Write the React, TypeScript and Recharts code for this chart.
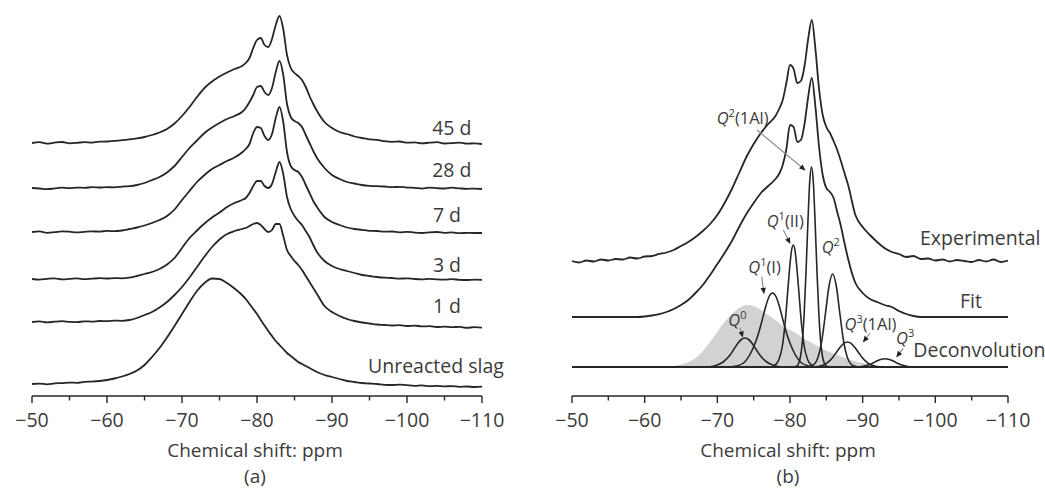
import React from "react";
import {
  ComposedChart,
  Line,
  Area,
  XAxis,
  YAxis,
  ReferenceDot,
  ReferenceLine,
} from "recharts";

const INK = "#262626";
const TEXT = "#3b3b3b";
const FONT = "'Open Sans', 'Noto Sans', sans-serif";

// chemical shift grid (ppm), finer around the Q1/Q2 peaks
const shifts = [
  -50, -51, -52, -53, -54, -55, -56, -57, -58, -59, -60, -61, -62, -63, -64, -65, -66,
  -67, -68, -69, -70, -71, -72, -73, -74, -75, -76, -77, -78,
  -78.5, -79, -79.5, -80, -80.5, -81, -81.5, -82, -82.5, -83, -83.5, -84, -84.5, -85, -85.5, -86, -86.5, -87, -87.5, -88,
  -89, -90, -91, -92, -93, -94, -95, -96, -97, -98, -99, -100, -101, -102, -103, -104, -105, -106, -107, -108, -109, -110,
];

const xTicks = [-50, -55, -60, -65, -70, -75, -80, -85, -90, -95, -100, -105, -110];

// panel (a): spectrum intensity above its own baseline
const day45 = [
  0, 0.8, -0.6, 0.4, 1.0, -0.3, 0.2, 0.9, 0.4, 1.3, 1.5, 2.2, 2.8, 3.6, 4.6, 6, 8,
  10.5, 14, 19.5, 27, 36, 46, 55, 61.5, 66.5, 70.5, 74, 77,
  80, 85, 95, 103, 105, 98, 96, 104, 118, 127, 114, 88, 75, 70, 67, 63, 56, 47, 39, 32,
  21, 15, 11, 9, 6.5, 5, 3.6, 3.2, 1.8, 1.2, 1.5, 0.3, 0.6, -0.4, 0.3, 0.8, -0.5, -0.2, 0.4, -0.6, -0.4, -1,
];
const day28 = [
  0, -0.5, -1.2, -0.4, 0.3, -0.2, 0.4, 0.2, 0.8, 0.5, 0.9, 0.6, 1.4, 1.8, 3, 5, 8,
  11, 15.5, 22, 31, 40, 47.5, 55, 60.5, 65, 69, 72, 76,
  80, 86, 93, 101, 102, 96, 93, 100, 116, 127, 113, 84, 71, 67, 65, 61, 53, 45, 37, 30,
  20, 13, 9, 6, 4.5, 3, 2.2, 1.8, 1.5, 0.8, 1.2, 0.4, 0.2, -0.6, 0.3, -0.2, -0.5, 0.3, -0.3, -0.8, -0.6, -1,
];
const day7 = [
  0, 0.6, -0.8, -0.2, 0.7, 0.3, -0.4, 0.2, 0.6, 0.4, 1.1, 0.8, 1.5, 3, 4.5, 6.5, 9,
  12, 16, 22.5, 32, 41, 50, 57, 63, 67, 71, 74.5, 79.5,
  83, 88, 99, 105, 104, 96, 92, 98, 114, 125, 110, 80, 66, 62, 60, 55, 47, 39, 31, 25,
  15, 10, 7, 4.5, 3, 2.2, 1.2, 1, 0.3, 0.5, -0.4, 0.2, -0.6, -1, -0.3, 0, -0.8, -0.4, -1.2, -0.8, -1, -1,
];
const day3 = [
  0, -0.6, 0.2, 0.7, -0.3, 0.1, 0.6, -0.2, 0.3, 0.8, 0.5, 0.9, 0.7, 1.4, 3, 5, 7,
  10, 14.5, 21, 31, 41, 48.5, 55.5, 61.5, 66.5, 72, 76, 79,
  81, 86, 93, 98, 98, 93, 91, 95, 107, 117, 105, 82, 70, 63, 58, 54, 48, 42, 34, 27,
  18, 13, 10, 8, 6, 4, 3, 2, 1.3, 1, 0.4, 0.6, 0, -0.3, 0.2, -0.4, -0.6, -0.2, -0.8, -1, -0.7, -0.8,
];
const day1 = [
  0, 0.6, -0.4, 0.3, 0.8, 0.2, -0.2, 0.7, 0.4, 1, 0.8, 1.4, 1.2, 2, 4, 7, 10,
  14.5, 20, 27, 35, 44.5, 55, 65.5, 75, 82.5, 88, 91, 93,
  94, 96, 98, 99, 97, 93, 90, 92, 98, 98, 86, 72, 66, 61, 57, 52, 46, 40, 34, 28,
  16, 10, 6, 3, 1, -0.5, -1.5, -2.5, -3, -3.5, -3.2, -4, -3.6, -4.4, -4.2, -5, -4.6, -5.2, -4.8, -5.8, -5.2, -5.6,
];
const unreacted = [
  0, 0.4, -0.3, 0.6, 0.9, 1.4, 1.2, 2.2, 2.4, 3, 4, 5.5, 7.5, 10, 13.5, 19, 27,
  36, 46.5, 58, 70, 82, 93, 101, 105.5, 105, 101, 95.5, 89,
  85, 80, 75, 70, 64, 58.5, 53, 48, 43, 39, 35, 31, 28, 25, 22, 20, 18, 16, 14, 12,
  9, 7, 5, 3, 2, 1, 0.5, 0, -0.8, -1, -0.6, -1.2, -1.8, -1.4, -2.2, -1.9, -2.4, -2.1, -2.8, -2.5, -3, -2.7,
];

const ageSeries = [day45, day28, day7, day3, day1, unreacted];
const ageLabels = ["45 d", "28 d", "7 d", "3 d", "1 d", "Unreacted slag"];
const ageStack = [253, 208, 164, 117, 74, 12];

// panel (b): experimental and fitted spectra
const experimental = [
  0, -1.5, 0.5, -0.5, 1.5, 0.5, 2, 1.5, 3.5, 2.5, 4.5, 5, 7, 8.5, 11, 15, 19,
  24, 30, 37, 46, 58, 72, 88, 104, 117, 128, 137, 145,
  152, 161, 178, 196, 192, 178, 180, 195, 222, 241, 212, 172, 146, 134, 128, 120, 111, 100, 88, 76,
  46, 34, 26, 19, 13, 9, 7, 4, 5, 2, 2.5, 0.5, 1.5, -0.5, 1, 0, -1, 1, -0.5, 1.5, -1, 0.5,
];
const fitted = [
  0, 0, 0, 0, 0, 0, 0, 0, 0, 0, 0.5, 1.5, 3, 5, 8, 12, 17,
  24, 32, 42, 53, 64, 76, 90, 103, 114, 124, 131, 138,
  143, 152, 168, 192, 190, 175, 177, 193, 220, 239, 210, 170, 142, 129, 125, 119, 105, 91, 74, 58,
  34, 24, 18, 15, 12, 10, 6, 3, 1, 0, 0, 0, 0, 0, 0, 0, 0, 0, 0, 0, 0, 0,
];
const expBase = 135;
const fitBase = 79;
const deconvBase = 29;

// deconvolution components: own shift lists and heights
const q0Shift = [-68.8, -69.8, -70.8, -71.8, -72.3, -72.8, -73.3, -73.8, -74.3, -74.8, -75.3, -75.8, -76.8, -77.8, -78.8];
const q0Height = [0, 1.5, 5, 12.5, 18, 23.5, 27.5, 29, 27.5, 23.5, 18, 12.5, 5, 1.5, 0];

const q1iShift = [-71.6, -72.6, -73.6, -74.6, -75.1, -75.6, -76.1, -76.6, -77.1, -77.6, -78.1, -78.6, -79.1, -79.6, -80.1, -80.6, -81.6, -82.6, -83.6];
const q1iHeight = [0, 1, 4, 14, 22, 32, 45, 59, 70, 74, 70, 59, 45, 32, 22, 14, 4, 1, 0];

const q1iiShift = [-77.45, -77.95, -78.45, -78.95, -79.2, -79.45, -79.7, -79.95, -80.2, -80.45, -80.7, -80.95, -81.2, -81.45, -81.7, -81.95, -82.45, -82.95, -83.45];
const q1iiHeight = [0, 2, 7, 21, 35, 54, 77, 99, 116, 122, 116, 99, 77, 54, 35, 21, 7, 2, 0];

const q2alShift = [-80.46, -80.96, -81.21, -81.46, -81.71, -81.96, -82.21, -82.46, -82.71, -82.96, -83.21, -83.46, -83.71, -83.96, -84.21, -84.46, -84.71, -84.96, -85.46];
const q2alHeight = [0, 1, 4, 11, 26, 55, 96, 144, 185, 200, 185, 144, 96, 55, 26, 11, 4, 1, 0];

const q2Shift = [-82.37, -82.87, -83.37, -83.87, -84.37, -84.87, -85.37, -85.87, -86.37, -86.87, -87.37, -87.87, -88.37, -88.87, -89.37];
const q2Height = [0, 1, 3, 10, 26, 53, 81, 93, 81, 53, 26, 10, 3, 1, 0];

const q3alShift = [-82.9, -83.9, -84.4, -84.9, -85.4, -85.9, -86.4, -86.9, -87.4, -87.9, -88.4, -88.9, -89.4, -89.9, -90.4, -90.9, -91.4, -91.9, -92.9];
const q3alHeight = [0, 0.5, 1.4, 3, 5.8, 9.8, 14.8, 19.8, 23.6, 25, 23.6, 19.8, 14.8, 9.8, 5.8, 3, 1.4, 0.5, 0];

const q3Shift = [-89.07, -90.07, -91.07, -92.07, -92.57, -93.07, -93.57, -94.07, -95.07, -96.07, -97.07];
const q3Height = [0, 0.8, 2.8, 6.4, 7.7, 8.3, 7.7, 6.4, 2.8, 0.8, 0];

// shaded glass component
const glassShift = [-62, -63, -64, -65, -66, -67, -68, -69, -70, -71, -72, -73, -74, -75, -76, -77, -78, -79, -80, -81, -82, -83, -84, -85, -86, -87, -88, -89, -90, -91, -92, -93, -94];
const glassHeight = [0, 0.5, 1, 2.5, 5, 9, 16, 25, 35, 45, 53, 59, 62, 61, 57, 52, 47, 41, 37, 33, 28, 24, 20, 16.5, 13.5, 10.5, 8, 5.5, 4, 2.5, 1.3, 0.5, 0];

const components = [
  [q0Shift, q0Height],
  [q1iShift, q1iHeight],
  [q1iiShift, q1iiHeight],
  [q2alShift, q2alHeight],
  [q2Shift, q2Height],
  [q3alShift, q3alHeight],
  [q3Shift, q3Height],
];

const rowsA = shifts.map((x, i) => {
  const row: any = { x };
  ageSeries.forEach((s, k) => {
    row["s" + k] = ageStack[k] + s[i];
  });
  return row;
});

const rowsB = shifts.map((x, i) => ({
  x,
  exp: expBase + experimental[i],
  fit: fitBase + fitted[i],
}));

const componentRows = components.map(([xs, hs]) =>
  xs.map((x, i) => ({ x, y: deconvBase + hs[i] }))
);
const glassRows = glassShift.map((x, i) => ({ x, y: deconvBase + glassHeight[i] }));
const baselineRows = [
  { x: -50, y: deconvBase },
  { x: -110, y: deconvBase },
];

// annotation anchors (data units)
const agePlaces = [
  [-103.35, 261],
  [-103.35, 219],
  [-103.45, 174],
  [-103.45, 124],
  [-103.45, 83],
  [-94.8, 23],
];

const qNotes = [
  { x: -69.91, y: 272, sup: "2", rest: "(1Al)" },
  { x: -76.79, y: 169.3, sup: "1", rest: "(II)" },
  { x: -74.26, y: 123.3, sup: "1", rest: "(I)" },
  { x: -71.51, y: 70, sup: "0", rest: "" },
  { x: -84.36, y: 143.3, sup: "2", rest: "" },
  { x: -87.5, y: 66.5, sup: "3", rest: "(1Al)" },
  { x: -94.6, y: 52.2, sup: "3", rest: "" },
];

const pointers = [
  { from: [-75.46, 266], to: [-82.06, 226] },
  { from: [-79.08, 166], to: [-80.0, 152.7] },
  { from: [-76.1, 119.3], to: [-76.42, 102.7] },
  { from: [-73.12, 68], to: [-73.49, 59] },
  { from: [-91.01, 62.7], to: [-90.09, 54.3] },
  { from: [-95.59, 47.7], to: [-94.68, 39.3] },
];

const seriesNotes = [
  { x: -97.89, y: 151, text: "Experimental" },
  { x: -103.39, y: 87.7, text: "Fit" },
  { x: -96.97, y: 39.3, text: "Deconvolution" },
];

const ShiftTick = (props: any) => {
  const { x, y, payload } = props;
  const v = payload.value;
  const major = v % 10 === 0;
  return (
    <g>
      <line x1={x} x2={x} y1={y} y2={y + (major ? 7 : 4.5)} stroke={INK} strokeWidth={1.4} />
      {major && (
        <text x={x} y={y + 31} textAnchor="middle" fontFamily={FONT} fontSize={19.5} fill={TEXT}>
          {"\u2212" + Math.abs(v)}
        </text>
      )}
    </g>
  );
};

const AxisTitle = (props: any) => {
  const { viewBox, tag } = props;
  const cx = viewBox.x + viewBox.width / 2 - 2;
  return (
    <g>
      <text x={cx} y={viewBox.y + 61} textAnchor="middle" fontFamily={FONT} fontSize={19} fill={TEXT}>
        Chemical shift: ppm
      </text>
      <text x={cx} y={viewBox.y + 87} textAnchor="middle" fontFamily={FONT} fontSize={19} fill={TEXT}>
        {tag}
      </text>
    </g>
  );
};

const PlainNote = (props: any) => {
  const { viewBox, note } = props;
  return (
    <text x={viewBox.x} y={viewBox.y} fontFamily={FONT} fontSize={19.5} fill={TEXT}>
      {note}
    </text>
  );
};

const QNote = (props: any) => {
  const { viewBox, sup, rest } = props;
  return (
    <text x={viewBox.x} y={viewBox.y} fontFamily={FONT} fontSize={16.5} fill={TEXT}>
      <tspan fontStyle="italic">Q</tspan>
      <tspan dy={-7} fontSize={11}>{sup}</tspan>
      <tspan dy={7}>{rest}</tspan>
    </text>
  );
};

const shiftAxis = (tag: string) => (
  <XAxis
    dataKey="x"
    type="number"
    domain={[-110, -50]}
    reversed
    allowDataOverflow
    ticks={xTicks}
    interval={0}
    height={98}
    tickSize={0}
    tickMargin={0}
    tickLine={false}
    axisLine={{ stroke: INK, strokeWidth: 1.4 }}
    tick={ShiftTick}
    label={<AxisTitle tag={tag} />}
  />
);

const PanelA = () => (
  <ComposedChart
    width={520}
    height={494}
    data={rowsA}
    margin={{ top: 0, right: 38, bottom: 0, left: 32 }}
  >
    {shiftAxis("(a)")}
    <YAxis hide type="number" domain={[0, 396]} allowDataOverflow />
    {ageSeries.map((_, k) => (
      <Line
        key={k}
        dataKey={"s" + k}
        type="monotone"
        stroke={INK}
        strokeWidth={1.8}
        dot={false}
        isAnimationActive={false}
      />
    ))}
    {ageLabels.map((t, k) => (
      <ReferenceDot
        key={t}
        x={agePlaces[k][0]}
        y={agePlaces[k][1]}
        r={0}
        fill="none"
        stroke="none"
        label={<PlainNote note={t} />}
      />
    ))}
  </ComposedChart>
);

const PanelB = () => (
  <ComposedChart
    width={525}
    height={494}
    data={rowsB}
    margin={{ top: 0, right: 37, bottom: 0, left: 52 }}
  >
    <defs>
      <marker
        id="tip"
        viewBox="0 0 10 10"
        refX="9"
        refY="5"
        markerWidth="7"
        markerHeight="6"
        orient="auto"
        markerUnits="userSpaceOnUse"
      >
        <path d="M0,0.5 L10,5 L0,9.5 z" fill="#1f1f1f" />
      </marker>
    </defs>
    {shiftAxis("(b)")}
    <YAxis hide type="number" domain={[0, 396]} allowDataOverflow />
    <Area
      data={glassRows}
      dataKey="y"
      type="monotone"
      baseValue={deconvBase}
      fill="#d2d2d2"
      fillOpacity={1}
      stroke="none"
      isAnimationActive={false}
    />
    <Line data={baselineRows} dataKey="y" type="linear" stroke={INK} strokeWidth={1.8} dot={false} isAnimationActive={false} />
    {componentRows.map((rows, k) => (
      <Line
        key={"c" + k}
        data={rows}
        dataKey="y"
        type="monotone"
        stroke={INK}
        strokeWidth={1.6}
        dot={false}
        isAnimationActive={false}
      />
    ))}
    <Line dataKey="fit" type="monotone" stroke={INK} strokeWidth={1.8} dot={false} isAnimationActive={false} />
    <Line dataKey="exp" type="monotone" stroke={INK} strokeWidth={1.8} dot={false} isAnimationActive={false} />
    {pointers.map((p, k) => (
      <ReferenceLine
        key={"p" + k}
        segment={[
          { x: p.from[0], y: p.from[1] },
          { x: p.to[0], y: p.to[1] },
        ]}
        stroke="#8a8a8a"
        strokeWidth={1.1}
        markerEnd="url(#tip)"
      />
    ))}
    {qNotes.map((q, k) => (
      <ReferenceDot
        key={"q" + k}
        x={q.x}
        y={q.y}
        r={0}
        fill="none"
        stroke="none"
        label={<QNote sup={q.sup} rest={q.rest} />}
      />
    ))}
    {seriesNotes.map((n) => (
      <ReferenceDot
        key={n.text}
        x={n.x}
        y={n.y}
        r={0}
        fill="none"
        stroke="none"
        label={<PlainNote note={n.text} />}
      />
    ))}
  </ComposedChart>
);

export default function App() {
  return (
    <div
      style={{
        position: "absolute",
        left: 0,
        top: 0,
        width: 1045,
        height: 494,
        background: "#fff",
      }}
    >
      <div style={{ position: "absolute", left: 0, top: 0 }}>
        <PanelA />
      </div>
      <div style={{ position: "absolute", left: 520, top: 0 }}>
        <PanelB />
      </div>
    </div>
  );
}
